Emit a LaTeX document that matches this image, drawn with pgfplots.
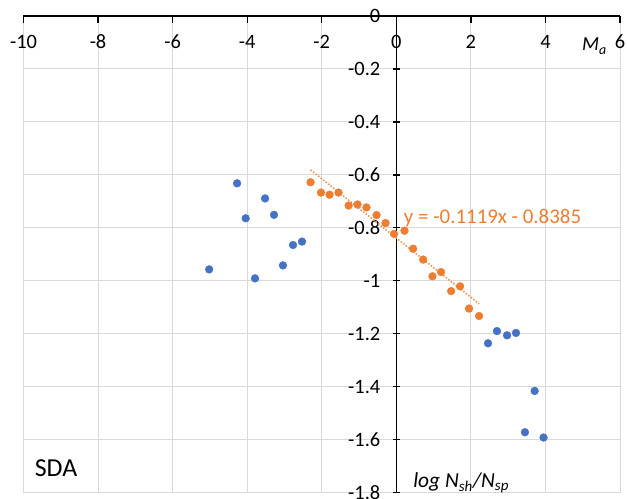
\documentclass[border=0pt]{standalone}
\usepackage{pgfplots}
\pgfplotsset{compat=1.18}
\usepackage{fontspec}
\setmainfont{Carlito}
\definecolor{ptblue}{HTML}{4472C4}
\definecolor{ptorange}{HTML}{ED7D31}
\definecolor{gridgray}{HTML}{D9D9D9}

\begin{document}
\begin{tikzpicture}
\begin{axis}[
  name=ax,
  scale only axis,
  width=597bp, height=477bp,
  xmin=-10, xmax=6, ymin=-1.8, ymax=0,
  axis lines=middle,
  axis line style={-, black, line width=1.3bp},
  hide obscured x ticks=false,
  hide obscured y ticks=false,
  xtick={-10,-8,...,6},
  ytick={-1.8,-1.6,...,0},
  grid=major,
  major grid style={gridgray, line width=1bp},
  major tick length=7bp,
  tick style={black, line width=1.3bp},
  every x tick/.append style={yshift=-3.5bp},
  ticklabel style={font=\fontsize{20.5}{24}\selectfont},
  xticklabel style={yshift=-12bp},
  yticklabel style={xshift=-9bp},
  /pgf/number format/assume math mode=true,
  yticklabel style={/pgf/number format/fixed, /pgf/number format/precision=1,
    /pgf/number format/fixed zerofill=false},
  clip=false,
]
  \addplot[only marks, mark=*, mark size=3.9bp, ptblue] coordinates {
    (-5.02,-0.957) (-4.27,-0.632) (-4.04,-0.764) (-3.79,-0.991)
    (-3.52,-0.689) (-3.28,-0.751) (-3.04,-0.942) (-2.77,-0.865)
    (-2.53,-0.852) (2.46,-1.236) (2.70,-1.190) (2.97,-1.206)
    (3.21,-1.197) (3.45,-1.572) (3.71,-1.416) (3.95,-1.592)
  };
  \addplot[only marks, mark=*, mark size=3.9bp, ptorange] coordinates {
    (-2.30,-0.628) (-2.02,-0.667) (-1.79,-0.675) (-1.55,-0.667)
    (-1.28,-0.716) (-1.04,-0.712) (-0.80,-0.723) (-0.53,-0.752)
    (-0.29,-0.782) (-0.06,-0.823) (0.22,-0.811) (0.45,-0.879)
    (0.72,-0.920) (0.97,-0.983) (1.20,-0.967) (1.47,-1.039)
    (1.71,-1.021) (1.95,-1.105) (2.22,-1.133)
  };
  % linear trend of the orange series, y = -0.1119x - 0.8385
  \addplot[ptorange!80, line width=1.6bp, dash pattern=on 1.6bp off 1.6bp] coordinates {
    (-2.30,-0.5811) (2.22,-1.0869)
  };
  \node[anchor=base west, ptorange, font=\fontsize{21}{24}\selectfont, inner sep=0pt]
    at (axis cs:0.2,-0.7855) {y = -0.1119x - 0.8385};
  \node[anchor=base west, font=\fontsize{26}{30}\selectfont, inner sep=0pt]
    at (axis cs:-9.7,-1.741) {SDA};
  \node[anchor=base west, font=\fontsize{21.5}{25}\itshape, inner sep=0pt]
    at (axis cs:0.45,-1.782) {log N\textsubscript{sh}/N\textsubscript{sp}};
  \node[anchor=base west, font=\fontsize{20}{24}\itshape, inner sep=0pt]
    at (axis cs:4.98,-0.132) {M\textsubscript{a}};
\end{axis}
\pgfresetboundingbox
\path ([shift={(-23.5bp,-6bp)}]ax.south west) rectangle ([shift={(7bp,16bp)}]ax.north east);
\end{tikzpicture}
\end{document}
